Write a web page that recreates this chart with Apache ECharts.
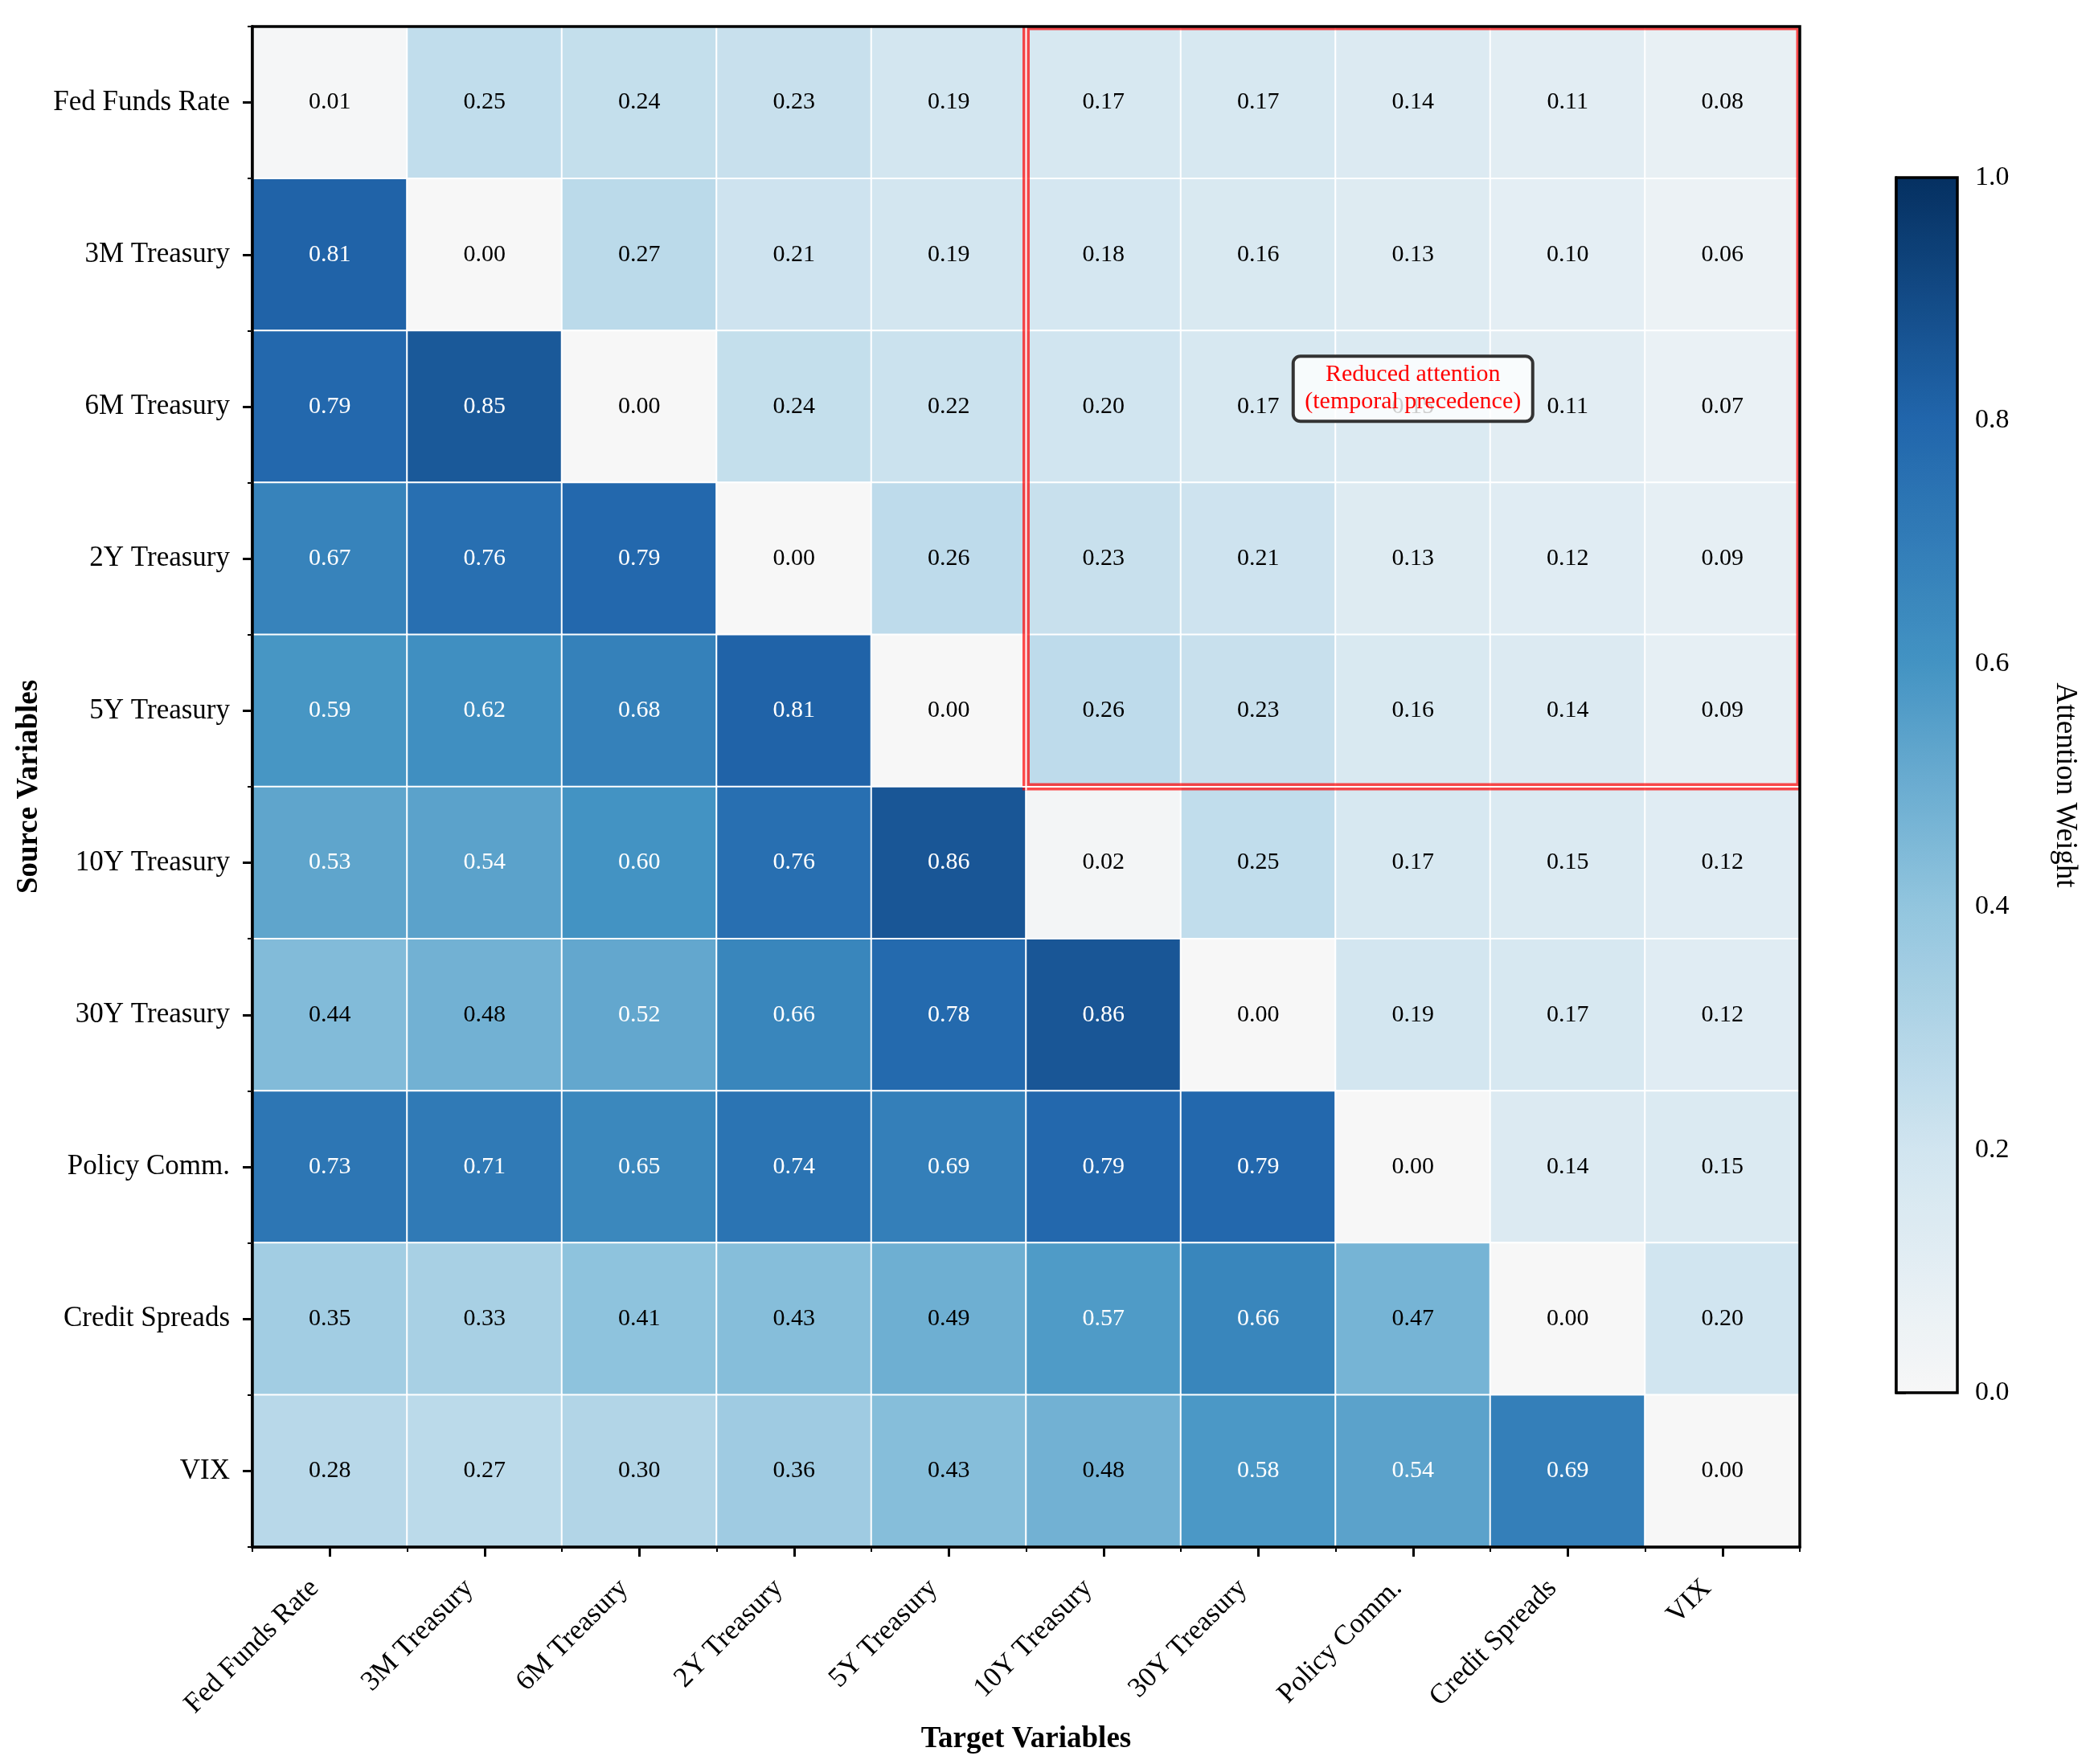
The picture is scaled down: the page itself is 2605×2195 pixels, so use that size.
<!DOCTYPE html>
<html>
<head>
<meta charset="utf-8">
<style>
    html, body { margin: 0; padding: 0; background: #fff; }
    #main { width: 2605px; height: 2195px; }
</style>
<script src="https://cdn.jsdelivr.net/npm/echarts@6/dist/echarts.min.js"></script>
</head>
<body>
<div id="main"></div>
<script>
// variables (rows = source, columns = target)
var variables = ['Fed Funds Rate', '3M Treasury', '6M Treasury', '2Y Treasury', '5Y Treasury',
    '10Y Treasury', '30Y Treasury', 'Policy Comm.', 'Credit Spreads', 'VIX'];

// attention weights, one row per source variable
var rowFedFunds = [0.01, 0.25, 0.24, 0.23, 0.19, 0.17, 0.17, 0.14, 0.11, 0.08];
var row3M       = [0.81, 0.00, 0.27, 0.21, 0.19, 0.18, 0.16, 0.13, 0.10, 0.06];
var row6M       = [0.79, 0.85, 0.00, 0.24, 0.22, 0.20, 0.17, 0.15, 0.11, 0.07];
var row2Y       = [0.67, 0.76, 0.79, 0.00, 0.26, 0.23, 0.21, 0.13, 0.12, 0.09];
var row5Y       = [0.59, 0.62, 0.68, 0.81, 0.00, 0.26, 0.23, 0.16, 0.14, 0.09];
var row10Y      = [0.53, 0.54, 0.60, 0.76, 0.86, 0.02, 0.25, 0.17, 0.15, 0.12];
var row30Y      = [0.44, 0.48, 0.52, 0.66, 0.78, 0.86, 0.00, 0.19, 0.17, 0.12];
var rowPolicy   = [0.73, 0.71, 0.65, 0.74, 0.69, 0.79, 0.79, 0.00, 0.14, 0.15];
var rowCredit   = [0.35, 0.33, 0.41, 0.43, 0.49, 0.57, 0.66, 0.47, 0.00, 0.20];
var rowVIX      = [0.28, 0.27, 0.30, 0.36, 0.43, 0.48, 0.58, 0.54, 0.69, 0.00];
var weights = [rowFedFunds, row3M, row6M, row2Y, row5Y, row10Y, row30Y, rowPolicy, rowCredit, rowVIX];

// colorbar ticks
var cbTicks = [0.0, 0.2, 0.4, 0.6, 0.8, 1.0];

// highlighted block: targets 10Y..VIX, sources Fed Funds..5Y
var boxTargets = ['10Y Treasury', 'VIX'];
var boxSources = ['Fed Funds Rate', '5Y Treasury'];
// annotation cell
var noteCell = ['Policy Comm.', '6M Treasury'];
var noteText = 'Reduced attention\n(temporal precedence)';

(function () {
    var FONT = '"Liberation Serif", "Times New Roman", "DejaVu Serif", serif';
    var plotBox = { left: 314, top: 33, width: 1925, height: 1892 };
    var cbBox = { left: 2359, top: 221, width: 76, height: 1512 };
    var blackLine = { show: true, lineStyle: { color: '#000', width: 3.5 } };

    var cells = [];
    weights.forEach(function (row, i) {
        row.forEach(function (v, j) {
            cells.push({
                value: [j, i, v],
                label: { color: v > 0.5 ? '#ffffff' : '#000000' }
            });
        });
    });

    var myChart = echarts.init(document.getElementById('main'));

    var option = {
        backgroundColor: '#ffffff',
        animation: false,
        textStyle: { fontFamily: FONT },
        grid: [
            { left: plotBox.left, top: plotBox.top, width: plotBox.width, height: plotBox.height },
            { left: cbBox.left, top: cbBox.top, width: cbBox.width, height: cbBox.height }
        ],
        xAxis: [{
            gridIndex: 0,
            type: 'category',
            data: variables,
            position: 'bottom',
            axisLine: blackLine,
            axisTick: { show: true, alignWithLabel: true, interval: 0, length: 12, lineStyle: { color: '#000', width: 3 } },
            axisLabel: {
                interval: 0, rotate: 45, margin: 27, padding: [0, 27, 0, 0],
                color: '#000', fontSize: 35, fontFamily: FONT
            },
            splitLine: { show: false },
            name: 'Target Variables',
            nameLocation: 'middle',
            nameGap: 212,
            nameTextStyle: { color: '#000', fontSize: 37, fontWeight: 'bold', fontFamily: FONT }
        }, {
            // boundary ticks
            gridIndex: 0,
            type: 'category',
            data: variables,
            position: 'bottom',
            axisLine: blackLine,
            axisTick: { show: true, interval: 0, length: 6, lineStyle: { color: '#000', width: 2 } },
            axisLabel: { show: false, interval: 0 },
            splitLine: { show: false }
        }, {
            gridIndex: 1,
            type: 'value',
            show: false
        }],
        yAxis: [{
            gridIndex: 0,
            type: 'category',
            data: variables,
            inverse: true,
            position: 'left',
            axisLine: blackLine,
            axisTick: { show: true, alignWithLabel: true, interval: 0, length: 12, lineStyle: { color: '#000', width: 3 } },
            axisLabel: { interval: 0, margin: 28, color: '#000', fontSize: 35, fontFamily: FONT },
            splitLine: { show: false },
            name: 'Source Variables',
            nameLocation: 'middle',
            nameGap: 258,
            nameRotate: 90,
            nameTextStyle: { color: '#000', fontSize: 37, fontWeight: 'bold', fontFamily: FONT }
        }, {
            gridIndex: 0,
            type: 'category',
            data: variables,
            inverse: true,
            position: 'left',
            axisLine: blackLine,
            axisTick: { show: true, interval: 0, length: 6, lineStyle: { color: '#000', width: 2 } },
            axisLabel: { show: false, interval: 0 },
            splitLine: { show: false }
        }, {
            // colorbar axis
            gridIndex: 1,
            type: 'value',
            position: 'right',
            min: cbTicks[0],
            max: cbTicks[cbTicks.length - 1],
            interval: cbTicks[1] - cbTicks[0],
            axisLine: blackLine,
            axisTick: { show: true, inside: false, length: 12, lineStyle: { color: '#000', width: 3 } },
            axisLabel: {
                margin: 22, color: '#000', fontSize: 34, fontFamily: FONT,
                formatter: function (v) { return v.toFixed(1); }
            },
            splitLine: { show: false },
            name: 'Attention Weight',
            nameLocation: 'middle',
            nameGap: 115,
            nameRotate: -90,
            nameTextStyle: { color: '#000', fontSize: 37, fontFamily: FONT }
        }],
        visualMap: {
            type: 'continuous',
            seriesIndex: 0,
            dimension: 2,
            min: cbTicks[0],
            max: cbTicks[cbTicks.length - 1],
            orient: 'vertical',
            left: cbBox.left,
            top: cbBox.top,
            itemWidth: cbBox.width,
            itemHeight: cbBox.height,
            padding: 0,
            calculable: false,
            hoverLink: false,
            inRange: {
                color: ['#f7f7f7', '#d1e5f0', '#92c5de', '#4393c3', '#2166ac', '#053061']
            }
        },
        series: [{
            name: 'Attention',
            type: 'heatmap',
            xAxisIndex: 0,
            yAxisIndex: 0,
            data: cells,
            itemStyle: { borderColor: '#ffffff', borderWidth: 2 },
            label: {
                show: true,
                fontSize: 30,
                fontFamily: FONT,
                formatter: function (p) { return p.value[2].toFixed(2); }
            },
            emphasis: { disabled: true }
        }]
    };
    myChart.setOption(option);

    // overlays: frame, highlighted block, annotation
    var p00 = myChart.convertToPixel({ xAxisIndex: 0, yAxisIndex: 0 }, [0, 0]);
    var p11 = myChart.convertToPixel({ xAxisIndex: 0, yAxisIndex: 0 }, [1, 1]);
    var colW = p11[0] - p00[0];
    var rowH = p11[1] - p00[1];
    var gLeft = p00[0] - colW / 2;
    var gTop = p00[1] - rowH / 2;
    var gRight = gLeft + variables.length * colW;
    var gBottom = gTop + variables.length * rowH;

    var bx1 = gLeft + variables.indexOf(boxTargets[0]) * colW;
    var bx2 = gLeft + (variables.indexOf(boxTargets[1]) + 1) * colW;
    var by1 = gTop + variables.indexOf(boxSources[0]) * rowH;
    var by2 = gTop + (variables.indexOf(boxSources[1]) + 1) * rowH;

    var notePos = myChart.convertToPixel({ xAxisIndex: 0, yAxisIndex: 0 },
        [variables.indexOf(noteCell[0]), variables.indexOf(noteCell[1])]);
    var noteY = notePos[1] - 0.12 * rowH;

    myChart.setOption({
        graphic: [
            // red block
            { type: 'rect', z: 10, silent: true,
              shape: { x: bx1, y: by1, width: bx2 - bx1, height: by2 - by1 },
              style: { fill: 'none', stroke: 'rgba(255,0,0,0.7)', lineWidth: 9 } },
            // clip the outer half outside the axes
            { type: 'rect', z: 11, silent: true,
              shape: { x: bx1 - 6, y: gTop - 6, width: gRight - bx1 + 12, height: 6 },
              style: { fill: '#ffffff' } },
            { type: 'rect', z: 11, silent: true,
              shape: { x: gRight, y: gTop - 6, width: 6, height: by2 - gTop + 12 },
              style: { fill: '#ffffff' } },
            // cell borders showing through the red line
            { type: 'line', z: 11, silent: true,
              shape: { x1: bx1, y1: gTop, x2: bx1, y2: by2 + 4.5 },
              style: { stroke: '#ffffff', lineWidth: 2 } },
            { type: 'line', z: 11, silent: true,
              shape: { x1: bx1 - 4.5, y1: by2, x2: gRight, y2: by2 },
              style: { stroke: '#ffffff', lineWidth: 2 } },
            // axes frame
            { type: 'rect', z: 12, silent: true,
              shape: { x: gLeft, y: gTop, width: gRight - gLeft, height: gBottom - gTop },
              style: { fill: 'none', stroke: '#000', lineWidth: 3.5 } },
            // colorbar frame
            { type: 'rect', z: 12, silent: true,
              shape: { x: cbBox.left, y: cbBox.top, width: cbBox.width, height: cbBox.height },
              style: { fill: 'none', stroke: '#000', lineWidth: 3.5 } },
            // annotation
            { type: 'rect', z: 13, silent: true,
              shape: { x: notePos[0] - 149, y: noteY - 40, width: 298, height: 81, r: 9 },
              style: { fill: 'rgba(255,255,255,0.8)', stroke: '#333333', lineWidth: 4 } },
            { type: 'text', z: 14, silent: true,
              x: notePos[0], y: noteY,
              style: {
                  text: noteText, align: 'center', verticalAlign: 'middle',
                  fill: '#ff0000', fontSize: 30, lineHeight: 34, fontFamily: FONT
              } }
        ]
    });

    window.addEventListener('resize', function () {
        myChart.resize();
    });
})();
</script>
</body>
</html>
